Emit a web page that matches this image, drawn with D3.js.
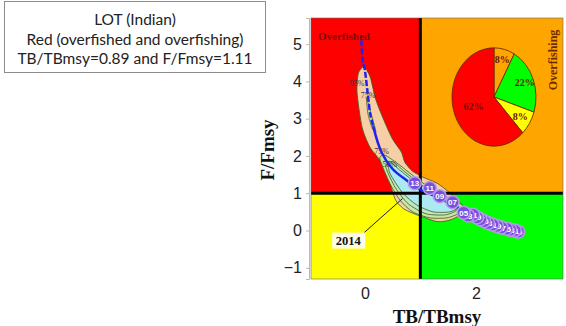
<!DOCTYPE html>
<html>
<head>
<meta charset="utf-8">
<script src="https://cdn.jsdelivr.net/npm/d3@7"></script>
<style>
  body { margin: 0; background: #fff; }
  svg { display: block; }
</style>
</head>
<body>
<div id="chart"></div>
<script>
// info box lines
const infoLines = ['LOT (Indian)', 'Red (overfished and overfishing)', 'TB/TBmsy=0.89 and F/Fmsy=1.11'];

// axis ticks
const xTicks = [0, 2];
const yTicks = [-1, 0, 1, 2, 3, 4, 5];

// quadrant proportions (pie): orange, green, yellow, red
const pieLabels = ['8%', '22%', '8%', '62%'];
const pieValues = [8, 22, 8, 62];
const pieColors = ['#ffa500', '#00ff00', '#ffff00', '#ff0000'];

// credible region contours (TB/TBmsy, F/Fmsy)
const contour95 = [[-0.04, 4.38], [-0.12, 4.2], [-0.14, 3.69], [-0.05, 2.77], [0.09, 2.24], [0.27, 1.89],
  [0.41, 1.54], [0.49, 1.09], [0.56, 0.8], [0.7, 0.58], [0.94, 0.42], [1.3, 0.24], [1.53, 0.28],
  [1.71, 0.42], [1.75, 0.68], [1.53, 1.01], [1.3, 1.27], [1.05, 1.43], [0.86, 1.59], [0.72, 1.83],
  [0.66, 2.1], [0.5, 2.45], [0.36, 2.9], [0.2, 3.5], [0.1, 4.1], [0.02, 4.33]];
const contour75 = [[0.27, 1.92], [0.45, 1.27], [0.63, 0.82], [0.86, 0.5], [1.17, 0.34], [1.48, 0.34],
  [1.71, 0.47], [1.8, 0.63], [1.59, 0.82], [1.3, 1.03], [1.05, 1.27], [0.81, 1.54], [0.58, 1.81], [0.36, 2.02]];
const contour60 = [[0.38, 1.7], [0.55, 1.15], [0.78, 0.72], [1.1, 0.45], [1.45, 0.42], [1.65, 0.55],
  [1.5, 0.78], [1.2, 1.02], [0.95, 1.3], [0.7, 1.6], [0.5, 1.85]];
const contour50 = [[0.45, 1.54], [0.68, 1.01], [0.94, 0.68], [1.23, 0.5], [1.53, 0.5], [1.68, 0.63],
  [1.53, 0.82], [1.17, 1.09], [0.86, 1.35], [0.63, 1.62], [0.43, 1.86]];
const contourTop = [[0.03, 3.55], [0.1, 3.2], [0.2, 2.65], [0.14, 2.72], [0.06, 3.1]];

// median trajectory
const trajX = [-0.06, -0.04, 0.0, 0.05, 0.1, 0.15, 0.3, 0.5, 0.75, 1.0, 1.3, 1.7, 2.0, 2.4, 2.8];
const trajY = [5.1, 4.6, 4.3, 3.7, 3.1, 2.8, 2.1, 1.65, 1.35, 1.1, 0.9, 0.6, 0.45, 0.25, 0.02];

// yearly points
const years = ['13', '11', '09', '07', '05', '03', '01', '99', '97', '95', '93', '91', '89', '87', '85', '83', '81', '79'];
const yearTB = [0.9, 1.17, 1.35, 1.58, 1.78, 1.86, 1.95, 2.02, 2.08, 2.15, 2.22, 2.3, 2.38, 2.46, 2.55, 2.62, 2.7, 2.76];
const yearF = [1.27, 1.14, 0.92, 0.76, 0.48, 0.4, 0.42, 0.35, 0.3, 0.25, 0.2, 0.16, 0.12, 0.08, 0.05, 0.02, 0.0, -0.03];

// 2014 annotation
const lastYear = '2014';
const lastPoint = [0.68, 0.86];
const lastLabelAt = [-0.3, -0.27];

const width = 566, height = 326;
const svg = d3.select('#chart').append('svg').attr('width', width).attr('height', height);

// info box
const box = svg.append('g');
box.append('rect').attr('x', 4.5).attr('y', 1.5).attr('width', 261).attr('height', 71)
  .attr('fill', '#fff').attr('stroke', '#8c8c8c').attr('stroke-width', 1);
box.selectAll('text').data(infoLines).join('text')
  .attr('x', 135).attr('y', (d, i) => 25 + i * 19.5)
  .attr('text-anchor', 'middle')
  .attr('font-family', 'Lato, sans-serif').attr('font-size', 15.5).attr('fill', '#222')
  .text(d => d);

const x = d3.scaleLinear().domain([-0.97, 3.57]).range([311, 563]);
const y = d3.scaleLinear().domain([-1.3, 5.7]).range([279, 18]);

const plot = svg.append('g');
// quadrants
const quads = [
  { x0: -0.97, x1: 1, y0: 1, y1: 5.7, c: '#ff0000' },
  { x0: 1, x1: 3.57, y0: 1, y1: 5.7, c: '#ffa500' },
  { x0: -0.97, x1: 1, y0: -1.3, y1: 1, c: '#ffff00' },
  { x0: 1, x1: 3.57, y0: -1.3, y1: 1, c: '#00ff00' }
];
plot.selectAll('rect.q').data(quads).join('rect').attr('class', 'q')
  .attr('x', d => x(d.x0)).attr('y', d => y(d.y1))
  .attr('width', d => x(d.x1) - x(d.x0)).attr('height', d => y(d.y0) - y(d.y1))
  .attr('fill', d => d.c);

// contours
const closed = d3.line().x(d => x(d[0])).y(d => y(d[1])).curve(d3.curveCardinalClosed.tension(0.3));
const shapes = [
  { pts: contour95, fill: '#f7cfa6' },
  { pts: contour75, fill: '#c9e6a4' },
  { pts: contour60, fill: '#bfe8c2' },
  { pts: contour50, fill: '#aaeaf0' },
  { pts: contourTop, fill: '#c9e6a4' }
];
plot.selectAll('path.ct').data(shapes).join('path').attr('class', 'ct')
  .attr('d', d => closed(d.pts))
  .attr('fill', d => d.fill).attr('stroke', '#3d5a1e').attr('stroke-width', 0.8);

// contour labels
const ctLabels = [['95%', -0.14, 3.88], ['75%', 0.06, 3.55], ['75%', 0.3, 2.05], ['50%', 0.45, 1.7]];
plot.selectAll('text.cl').data(ctLabels).join('text').attr('class', 'cl')
  .attr('x', d => x(d[1])).attr('y', d => y(d[2]))
  .attr('text-anchor', 'middle')
  .attr('font-family', 'Liberation Serif, serif').attr('font-size', 8).attr('fill', '#333')
  .text(d => d[0]);

// reference lines
plot.append('line').attr('x1', x(1)).attr('x2', x(1)).attr('y1', y(5.7)).attr('y2', y(-1.3))
  .attr('stroke', '#000').attr('stroke-width', 3);
plot.append('line').attr('x1', x(-0.97)).attr('x2', x(3.57)).attr('y1', y(1)).attr('y2', y(1))
  .attr('stroke', '#000').attr('stroke-width', 3);

// trajectory
const traj = trajX.map((v, i) => [v, trajY[i]]);
const line = d3.line().x(d => x(d[0])).y(d => y(d[1])).curve(d3.curveCatmullRom);
plot.append('path').attr('d', line(traj.slice(0, 6)))
  .attr('fill', 'none').attr('stroke', '#2222ee').attr('stroke-width', 2.5).attr('stroke-dasharray', '6 2');
plot.append('path').attr('d', line(traj.slice(5)))
  .attr('fill', 'none').attr('stroke', '#2222ee').attr('stroke-width', 2.5);

// yearly points
const pts = years.map((l, i) => ({ l, tb: yearTB[i], f: yearF[i] }));
const pg = plot.selectAll('g.pt').data(pts.slice().reverse()).join('g').attr('class', 'pt')
  .attr('transform', d => `translate(${x(d.tb)},${y(d.f)})`);
pg.append('circle').attr('r', 6.5).attr('fill', '#7a4fe0').attr('stroke', '#b59be8').attr('stroke-width', 1.5);
pg.append('text').attr('text-anchor', 'middle').attr('dy', 3)
  .attr('font-family', 'Liberation Sans Narrow, Liberation Sans, sans-serif').attr('font-size', 8)
  .attr('font-weight', 'bold').attr('fill', '#fff').text(d => d.l);

// 2014 label with leader
plot.append('line').attr('x1', x(lastLabelAt[0]) + 16).attr('y1', y(lastLabelAt[1]) - 8)
  .attr('x2', x(lastPoint[0])).attr('y2', y(lastPoint[1]))
  .attr('stroke', '#222').attr('stroke-width', 1);
plot.append('rect').attr('x', x(lastLabelAt[0]) - 16).attr('y', y(lastLabelAt[1]) - 8)
  .attr('width', 33).attr('height', 16).attr('fill', '#fffde6');
plot.append('text').attr('x', x(lastLabelAt[0])).attr('y', y(lastLabelAt[1]) + 4.5)
  .attr('text-anchor', 'middle').attr('font-family', 'Liberation Serif, serif')
  .attr('font-weight', 'bold').attr('font-size', 12.5).attr('fill', '#111').text(lastYear);

// frame
plot.append('rect').attr('x', x(-0.97)).attr('y', y(5.7))
  .attr('width', x(3.57) - x(-0.97)).attr('height', y(-1.3) - y(5.7))
  .attr('fill', 'none').attr('stroke', '#666').attr('stroke-width', 0.6);

// quadrant captions
plot.append('text').attr('x', 344).attr('y', 40).attr('text-anchor', 'middle')
  .attr('font-family', 'Liberation Serif, serif').attr('font-weight', 'bold').attr('font-size', 11)
  .attr('fill', '#7a0a0a').text('Overfished');
plot.append('text').attr('transform', 'translate(557,60) rotate(-90)').attr('text-anchor', 'middle')
  .attr('font-family', 'Liberation Serif, serif').attr('font-weight', 'bold').attr('font-size', 12)
  .attr('fill', '#6b2a00').text('Overfishing');

// pie (stretched vertically)
const pieCx = 494, pieCy = 97, pieSy = 1.17;
const pieG = svg.append('g').attr('transform', `translate(${pieCx},${pieCy}) scale(1,${pieSy})`);
const arcs = d3.pie().sort(null)(pieValues);
const arcGen = d3.arc().innerRadius(0).outerRadius(42);
pieG.selectAll('path').data(arcs).join('path')
  .attr('d', arcGen).attr('fill', (d, i) => pieColors[i])
  .attr('stroke', '#6b2a00').attr('stroke-width', 0.8);
const labelR = [33, 33, 31, 22];
svg.selectAll('text.pl').data(arcs).join('text').attr('class', 'pl')
  .attr('x', (d, i) => pieCx + d3.arc().innerRadius(labelR[i]).outerRadius(labelR[i]).centroid(d)[0])
  .attr('y', (d, i) => pieCy + d3.arc().innerRadius(labelR[i]).outerRadius(labelR[i]).centroid(d)[1] * pieSy + 3.5)
  .attr('text-anchor', 'middle')
  .attr('font-family', 'Liberation Serif, serif').attr('font-weight', 'bold').attr('font-size', 10)
  .attr('fill', '#6b1010').text((d, i) => pieLabels[i]);

// axes
const yAxis = svg.append('g').attr('transform', 'translate(309,0)')
  .call(d3.axisLeft(y).tickValues(yTicks).tickSize(3).tickPadding(4).tickFormat(d => d < 0 ? '\u2212' + Math.abs(d) : d));
yAxis.select('.domain').attr('stroke', '#c8b89a');
yAxis.selectAll('.tick line').attr('stroke', '#c8b89a');
yAxis.selectAll('text').attr('font-family', 'Liberation Sans Narrow, Liberation Sans, sans-serif')
  .attr('font-size', 16).attr('fill', '#222');

const xAxis = svg.append('g').attr('transform', 'translate(0,279)')
  .call(d3.axisBottom(x).tickValues(xTicks).tickSize(0).tickPadding(9).tickFormat(d3.format('d')));
xAxis.select('.domain').remove();
xAxis.selectAll('text').attr('font-family', 'Liberation Sans Narrow, Liberation Sans, sans-serif')
  .attr('font-size', 16).attr('fill', '#222');

svg.append('text').attr('x', 437).attr('y', 323).attr('text-anchor', 'middle')
  .attr('font-family', 'Liberation Serif, serif').attr('font-weight', 'bold').attr('font-size', 19)
  .attr('fill', '#111').text('TB/TBmsy');
svg.append('text').attr('transform', 'translate(274,150) rotate(-90)').attr('text-anchor', 'middle')
  .attr('font-family', 'Liberation Serif, serif').attr('font-weight', 'bold').attr('font-size', 19)
  .attr('fill', '#111').text('F/Fmsy');
</script>
</body>
</html>
